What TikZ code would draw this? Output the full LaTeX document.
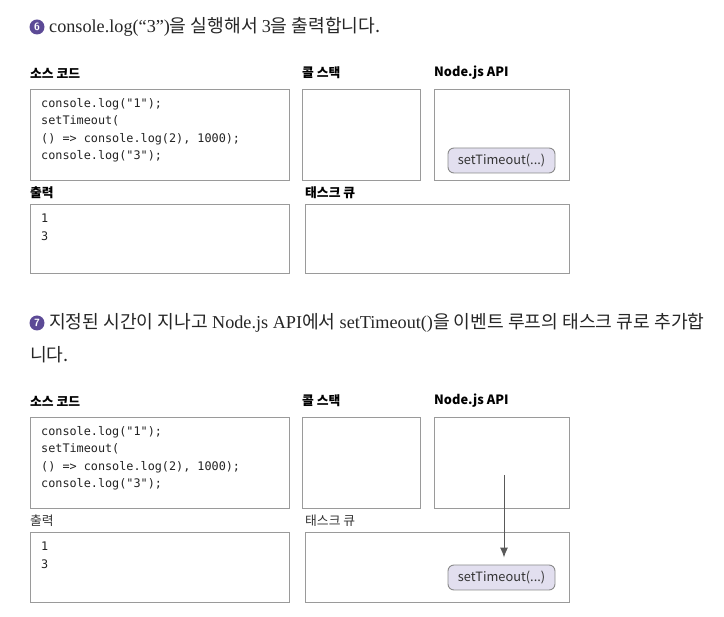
\documentclass[tikz,border=0pt]{standalone}
\usepackage{fontspec}
\setmainfont{Liberation Serif}
\setmonofont{DejaVu Sans Mono}
\newfontfamily\kr{Noto Sans CJK KR}
\usetikzlibrary{
    arrows.meta,
    positioning,
    calc
}
\definecolor{boxgray}{HTML}{9A9A9A}
\definecolor{stepviolet}{HTML}{5C4A96}
\definecolor{pillfill}{HTML}{E2DFEF}
\definecolor{pillline}{HTML}{8A8A8A}
\definecolor{codeink}{HTML}{222222}
\tikzset {
    panel/.style = {draw = boxgray, line width = 1.1pt, anchor = north west, inner sep = 0pt},
    steplabel/.style = {circle, fill = stepviolet, text = white, inner sep = 0pt,
        minimum size = 15pt, font = \fontsize{10.5}{10.5}\selectfont\bfseries\sffamily},
    heading/.style = {anchor = base west, inner sep = 0pt, text = black!85,
        font = \fontsize{18.2}{22}\selectfont},
    title/.style = {anchor = west, inner sep = 0pt, font = \kr\bfseries\fontsize{12.8}{14}\selectfont},
    titlelight/.style = {anchor = west, inner sep = 0pt, text = black!80, font = \kr\fontsize{12.8}{14}\selectfont},
    code/.style = {anchor = north west, inner sep = 0pt, align = left, text = codeink,
        font = \ttfamily\fontsize{11.8}{17.4}\selectfont},
    pill/.style = {draw = pillline, fill = pillfill, rounded corners = 6pt, line width = 0.9pt,
        minimum width = 107pt, minimum height = 25pt, inner sep = 0pt,
        font = \kr\fontsize{12.8}{14}\selectfont, text = black!80},
    flow/.style = {draw = black!65, line width = 1pt, -{Latex[length = 10pt, width = 8pt]}}
}

\begin{document}
\begin{tikzpicture}[x = 1pt, y = -1pt]
    \useasboundingbox (0, 0) rectangle (724, 617);
    % step 6
    \node (s6) [steplabel] at (37, 27) {6};
    \node (h6) [heading] at (49, 33)
        {console.log(“3”){\kr 을 실행해서 }3{\kr 을 출력합니다.}};
    \node (tsrc1) [title] at (30, 73) {소스 코드};
    \node (tstack1) [title] at (302, 73) {콜 스택};
    \node (tapi1) [title] at (434, 73) {Node.js API};
    \node (src1) [panel, minimum width = 259pt, minimum height = 91pt] at (30, 89) {};
    \node (stack1) [panel, minimum width = 118pt, minimum height = 91pt] at (302, 89) {};
    \node (api1) [panel, minimum width = 135pt, minimum height = 91pt] at (434, 89) {};
    \node (code1) [code] at (41, 98)
        {console.log("1");\\setTimeout(\\() => console.log(2), 1000);\\console.log("3");};
    \node (timer1) [pill] at (501.5, 160.5) {setTimeout(...)};
    \node (tout1) [title] at (30, 193) {출력};
    \node (tqueue1) [title] at (305, 193) {태스크 큐};
    \node (out1) [panel, minimum width = 259pt, minimum height = 69pt] at (30, 204) {};
    \node (queue1) [panel, minimum width = 264pt, minimum height = 69pt] at (305, 204) {};
    \node (res1) [code] at (41, 214) {1\\3};
    % step 7
    \node (s7) [steplabel] at (37, 323) {7};
    \node (h7) [heading] at (49, 329)
        {{\kr 지정된 시간이 지나고 }Node.js API{\kr 에서 }setTimeout(){\kr 을 이벤트 루프의 태스크 큐로 추가합}};
    \node (h7b) [heading] at (30, 362) {\kr 니다.};
    \node (tsrc2) [title] at (30, 401) {소스 코드};
    \node (tstack2) [title] at (302, 401) {콜 스택};
    \node (tapi2) [title] at (434, 401) {Node.js API};
    \node (src2) [panel, minimum width = 259pt, minimum height = 91pt] at (30, 417) {};
    \node (stack2) [panel, minimum width = 118pt, minimum height = 91pt] at (302, 417) {};
    \node (api2) [panel, minimum width = 135pt, minimum height = 91pt] at (434, 417) {};
    \node (code2) [code] at (41, 426)
        {console.log("1");\\setTimeout(\\() => console.log(2), 1000);\\console.log("3");};
    \node (tout2) [titlelight] at (30, 521) {출력};
    \node (tqueue2) [titlelight] at (305, 521) {태스크 큐};
    \node (out2) [panel, minimum width = 259pt, minimum height = 70pt] at (30, 532) {};
    \node (queue2) [panel, minimum width = 264pt, minimum height = 70pt] at (305, 532) {};
    \node (res2) [code] at (41, 542) {1\\3};
    \node (timer2) [pill] at (501.5, 577.5) {setTimeout(...)};
    \coordinate (drop) at (504, 475);
    \draw [flow, shorten > = 7pt] (drop) -- (drop |- timer2.north);
\end{tikzpicture}
\end{document}
